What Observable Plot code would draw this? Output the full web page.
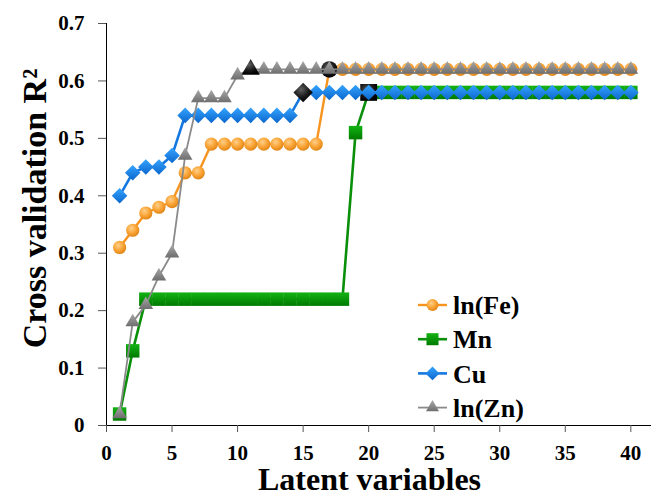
<!DOCTYPE html>
<html>
<head>
<meta charset="utf-8">
<script src="https://cdn.jsdelivr.net/npm/d3@7"></script>
<script src="https://cdn.jsdelivr.net/npm/@observablehq/plot@0.6"></script>
<style>
  html, body { margin: 0; padding: 0; background: #fff; font-family: "Liberation Serif", serif; }
  #chart { position: relative; width: 654px; height: 496px; }
  #legend { position: absolute; left: 0; top: 0; pointer-events: none; }
</style>
</head>
<body>
<div id="chart"></div>
<script>
// Number of latent variables in the PLS models
const latent = [1, 2, 3, 4, 5, 6, 7, 8, 9, 10, 11, 12, 13, 14, 15, 16, 17, 18, 19, 20,
                21, 22, 23, 24, 25, 26, 27, 28, 29, 30, 31, 32, 33, 34, 35, 36, 37, 38, 39, 40];

// Cross-validated R² for each element
const lnFe = [0.31, 0.34, 0.37, 0.38, 0.39, 0.44, 0.44, 0.49, 0.49, 0.49,
              0.49, 0.49, 0.49, 0.49, 0.49, 0.49, 0.62, 0.62, 0.62, 0.62,
              0.62, 0.62, 0.62, 0.62, 0.62, 0.62, 0.62, 0.62, 0.62, 0.62,
              0.62, 0.62, 0.62, 0.62, 0.62, 0.62, 0.62, 0.62, 0.62, 0.62];
const Mn   = [0.02, 0.13, 0.22, 0.22, 0.22, 0.22, 0.22, 0.22, 0.22, 0.22,
              0.22, 0.22, 0.22, 0.22, 0.22, 0.22, 0.22, 0.22, 0.51, 0.58,
              0.58, 0.58, 0.58, 0.58, 0.58, 0.58, 0.58, 0.58, 0.58, 0.58,
              0.58, 0.58, 0.58, 0.58, 0.58, 0.58, 0.58, 0.58, 0.58, 0.58];
const Cu   = [0.40, 0.44, 0.45, 0.45, 0.47, 0.54, 0.54, 0.54, 0.54, 0.54,
              0.54, 0.54, 0.54, 0.54, 0.58, 0.58, 0.58, 0.58, 0.58, 0.58,
              0.58, 0.58, 0.58, 0.58, 0.58, 0.58, 0.58, 0.58, 0.58, 0.58,
              0.58, 0.58, 0.58, 0.58, 0.58, 0.58, 0.58, 0.58, 0.58, 0.58];
const lnZn = [0.02, 0.18, 0.21, 0.26, 0.30, 0.47, 0.57, 0.57, 0.57, 0.61,
              0.62, 0.62, 0.62, 0.62, 0.62, 0.62, 0.62, 0.62, 0.62, 0.62,
              0.62, 0.62, 0.62, 0.62, 0.62, 0.62, 0.62, 0.62, 0.62, 0.62,
              0.62, 0.62, 0.62, 0.62, 0.62, 0.62, 0.62, 0.62, 0.62, 0.62];

// Selected number of latent variables per element (drawn in black)
const optimalLV = {"ln(Fe)": 17, "Mn": 20, "Cu": 15, "ln(Zn)": 11};

const xTicks = [0, 5, 10, 15, 20, 25, 30, 35, 40];
const yTicks = [0, 0.1, 0.2, 0.3, 0.4, 0.5, 0.6, 0.7];

const seriesNames = ["ln(Fe)", "Mn", "Cu", "ln(Zn)"];
const seriesValues = [lnFe, Mn, Cu, lnZn];

// Drawing style per series
const styles = {
  "ln(Fe)": {line: "#F7941D", fill: "url(#gFe)", symbol: "circle",   r: 6.6, width: 2.4},
  "Mn":     {line: "#0A8F0A", fill: "url(#gMn)", symbol: "square",   r: 7.6, width: 2.6},
  "Cu":     {line: "#1478E0", fill: "url(#gCu)", symbol: "diamond2", r: 7.0, width: 2.6},
  "ln(Zn)": {line: "#8A8A8A", fill: "url(#gZn)", symbol: "triangle", r: 5.4, width: 1.8}
};

const rows = seriesNames.map((name, k) =>
  latent.map((lv, i) => ({series: name, lv, r2: seriesValues[k][i], best: lv === optimalLV[name]}))
);

const font = "Liberation Serif, Times New Roman, serif";

// Gradient definitions for shaded markers
function defs() {
  const g = d3.create("svg:g");
  const d = g.append("defs");
  const radial = (id, c0, c1, c2) => {
    const gr = d.append("radialGradient").attr("id", id).attr("cx", "40%").attr("cy", "35%").attr("r", "65%");
    gr.append("stop").attr("offset", "0%").attr("stop-color", c0);
    gr.append("stop").attr("offset", "60%").attr("stop-color", c1);
    gr.append("stop").attr("offset", "100%").attr("stop-color", c2);
  };
  const linear = (id, c0, c1) => {
    const gr = d.append("linearGradient").attr("id", id).attr("x1", "0").attr("y1", "0").attr("x2", "0").attr("y2", "1");
    gr.append("stop").attr("offset", "0%").attr("stop-color", c0);
    gr.append("stop").attr("offset", "100%").attr("stop-color", c1);
  };
  radial("gFe", "#FFD08A", "#F9A232", "#E0861A");
  linear("gMn", "#13B313", "#007A00");
  linear("gCu", "#35A4FF", "#0A66CC");
  linear("gZn", "#A8A8A8", "#6E6E6E");
  radial("gBk", "#606060", "#1A1A1A", "#000000");
  return g.node();
}

const marks = [() => defs()];
seriesNames.forEach((name) => {
  const s = styles[name];
  const data = rows[seriesNames.indexOf(name)];
  marks.push(Plot.line(data, {x: "lv", y: "r2", stroke: s.line, strokeWidth: s.width}));
  marks.push(Plot.dot(data.filter(d => !d.best), {x: "lv", y: "r2", symbol: () => s.symbol, r: s.r, fill: s.fill, stroke: "none"}));
  marks.push(Plot.dot(data.filter(d => d.best), {x: "lv", y: "r2", symbol: () => s.symbol, r: s.r * 1.25, fill: "url(#gBk)", stroke: "none"}));
});

// Axis titles
marks.push(Plot.text(["Latent variables"], {frameAnchor: "bottom", textAnchor: "middle", dy: 54, dx: -9, lineAnchor: "middle",
  fontSize: 32, fontWeight: "bold", fill: "#000"}));
marks.push(Plot.text(["Cross validation R²"], {frameAnchor: "left", textAnchor: "middle", rotate: -90, dx: -71, dy: -16, lineAnchor: "middle",
  fontSize: 34, fontWeight: "bold", fill: "#000"}));

const chart = Plot.plot({
  width: 654,
  height: 496,
  marginLeft: 106,
  marginRight: 4,
  marginTop: 23,
  marginBottom: 71,
  style: {fontSize: "21px", fontWeight: "bold", color: "#000", background: "#fff", overflow: "visible"},
  x: {domain: [0, 41.5], ticks: xTicks, tickSize: 7, tickPadding: 13, line: true, label: null},
  y: {domain: [0, 0.7], ticks: yTicks, tickSize: 8, tickPadding: 14, line: true, label: null,
      tickFormat: d => d === 0 ? "0" : d3.format(".1f")(d)},
  symbol: {type: "identity"},
  marks
});
document.getElementById("chart").appendChild(chart);

// Axis lines and tick marks in dark gray
d3.select(chart).selectAll("[aria-label$='axis'] path, [aria-label$='tick'] path, [aria-label='x-axis'] line, [aria-label='y-axis'] line")
  .attr("stroke", "#555");

// Legend in the lower right of the plotting area
const legend = d3.select("#chart").append("svg")
  .attr("id", "legend").attr("width", 654).attr("height", 496);
legend.append(() => defs());
seriesNames.forEach((name, i) => {
  const s = styles[name];
  const cy = 305 + i * 34.2;
  const g = legend.append("g").attr("transform", `translate(0,${cy})`);
  g.append("line").attr("x1", 418).attr("x2", 447).attr("y1", 0).attr("y2", 0)
    .attr("stroke", s.line).attr("stroke-width", s.width);
  const sym = {circle: d3.symbolCircle, square: d3.symbolSquare, diamond2: d3.symbolDiamond2, triangle: d3.symbolTriangle}[s.symbol];
  g.append("path").attr("transform", "translate(432.5,0)")
    .attr("d", d3.symbol(sym, Math.PI * s.r * s.r * 0.8)())
    .attr("fill", s.fill);
  g.append("text").attr("x", 453).attr("y", 0).attr("dy", "0.35em")
    .attr("font-size", 26)
    .text(name);
});

// Serif bold type for every label
d3.selectAll("#chart svg, #chart svg g, #chart svg text")
  .attr("font-family", font)
  .style("font-family", font)
  .style("font-weight", "bold");
</script>
</body>
</html>
